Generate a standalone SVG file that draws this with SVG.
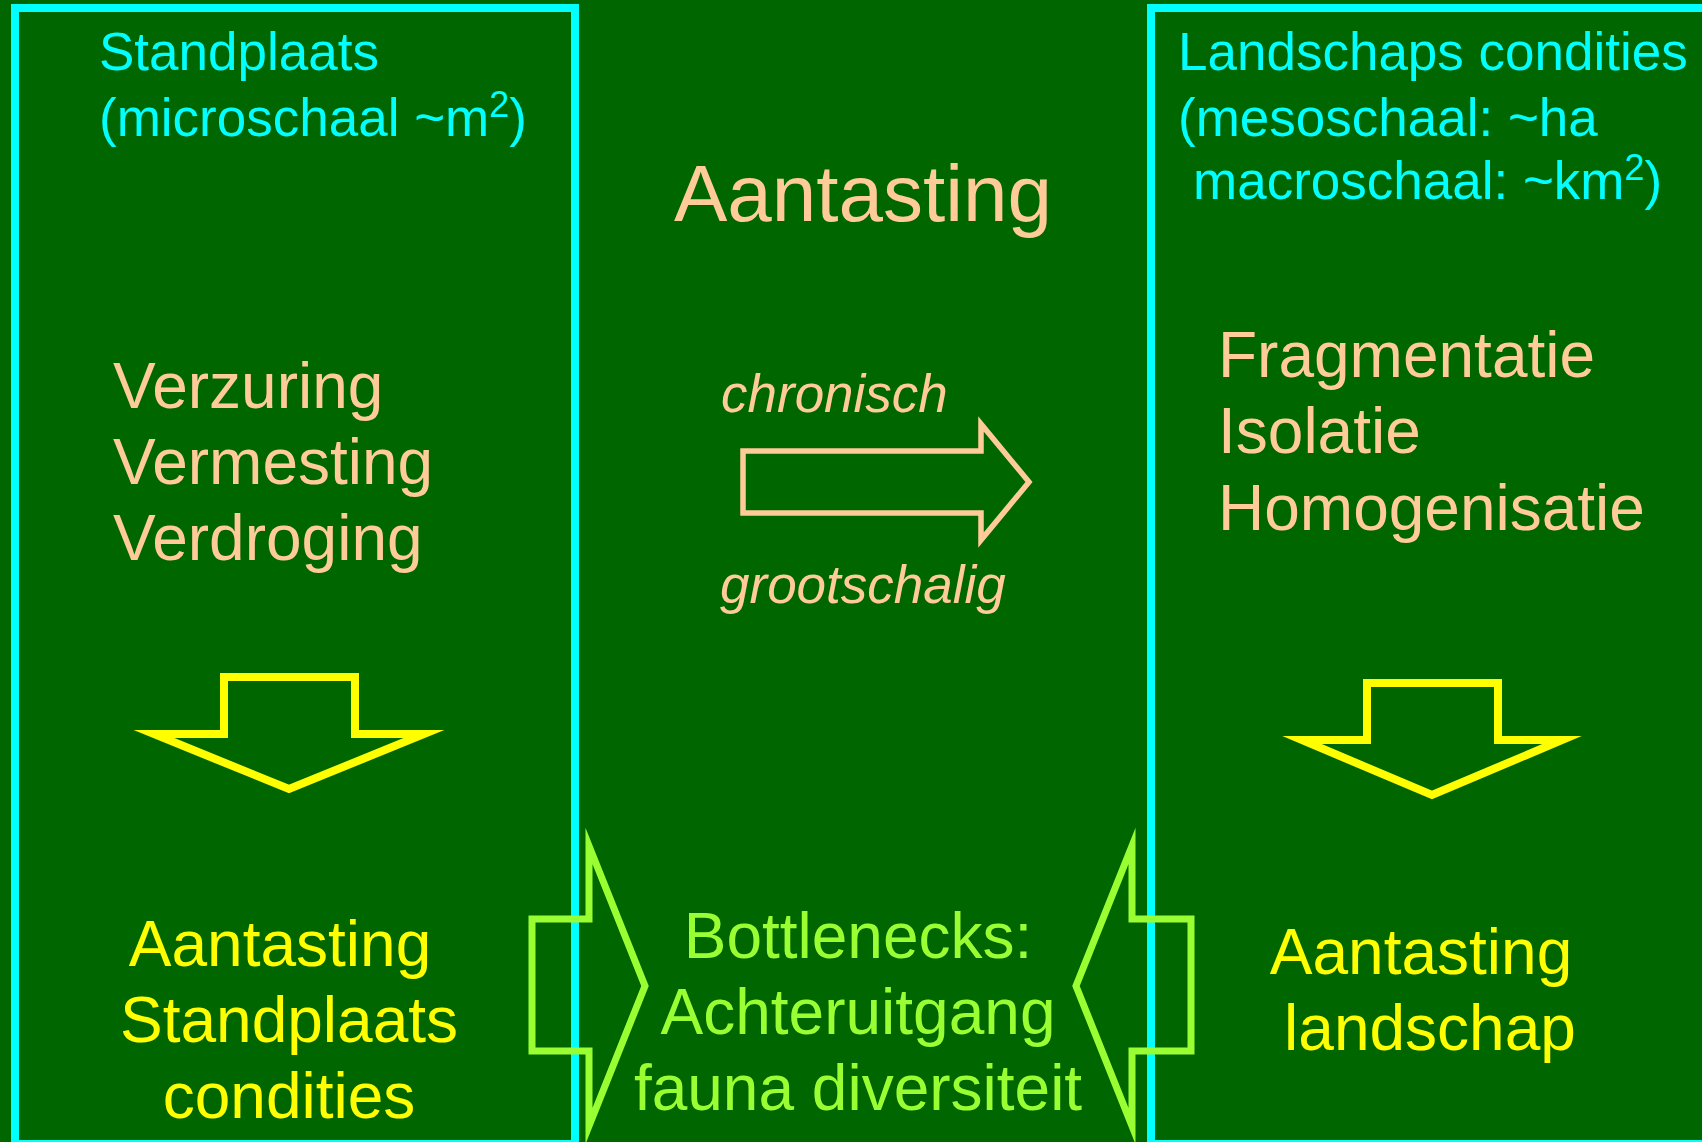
<svg xmlns="http://www.w3.org/2000/svg" width="1702" height="1142" viewBox="0 0 1702 1142">
  <style>
    text { font-family: "Liberation Sans", Arial, sans-serif; }
    .hdr { fill: #00FFFF; font-size: 53px; }
    .peach { fill: #FFCC99; }
    .big { font-size: 64px; }
    .it { font-size: 53px; font-style: italic; }
    .yel { fill: #FFFF00; font-size: 64px; text-anchor: middle; }
    .grn { fill: #99FF33; font-size: 64px; text-anchor: middle; }
    .box { fill: none; stroke: #00FFFF; stroke-width: 8; }
    .ya { fill: none; stroke: #FFFF00; stroke-width: 8; stroke-miterlimit: 10; }
    .pa { fill: none; stroke: #FFCC99; stroke-width: 5.5; stroke-miterlimit: 10; }
    .ga { fill: none; stroke: #99FF33; stroke-width: 7; stroke-miterlimit: 10; }
    .sup { font-size: 36px; }
  </style>
  <rect x="0" y="0" width="1702" height="1142" fill="#006600"/>

  <g id="box-standplaats">
    <rect class="box" x="15" y="8" width="560" height="1136"/>
    <text class="hdr" x="99" y="70">Standplaats</text>
    <text class="hdr" x="99" y="136">(microschaal ~m<tspan class="sup" dy="-19">2</tspan><tspan dy="19">)</tspan></text>
    <text class="peach big" x="113" y="408">Verzuring</text>
    <text class="peach big" x="113" y="484">Vermesting</text>
    <text class="peach big" x="113" y="560">Verdroging</text>
    <text class="yel" x="280" y="966">Aantasting</text>
    <text class="yel" x="289" y="1042">Standplaats</text>
    <text class="yel" x="289" y="1118">condities</text>
  </g>

  <g id="box-landschap">
    <rect class="box" x="1151" y="8" width="600" height="1136"/>
    <text class="hdr" x="1178" y="70">Landschaps condities</text>
    <text class="hdr" x="1178" y="136">(mesoschaal: ~ha</text>
    <text class="hdr" x="1193" y="199">macroschaal: ~km<tspan class="sup" dy="-19">2</tspan><tspan dy="19">)</tspan></text>
    <text class="peach big" x="1218" y="377">Fragmentatie</text>
    <text class="peach big" x="1218" y="453">Isolatie</text>
    <text class="peach big" x="1218" y="530">Homogenisatie</text>
    <text class="yel" x="1421" y="974">Aantasting</text>
    <text class="yel" x="1430" y="1050">landschap</text>
  </g>

  <g id="aantasting-center">
    <text class="peach" x="674" y="221" font-size="80">Aantasting</text>
    <text class="peach it" x="721" y="412">chronisch</text>
    <text class="peach it" x="720" y="603">grootschalig</text>
  </g>

  <g id="bottlenecks">
    <text class="grn" x="858" y="958">Bottlenecks:</text>
    <text class="grn" x="858" y="1034">Achteruitgang</text>
    <text class="grn" x="858" y="1110">fauna diversiteit</text>
  </g>

  <g id="connectors">
    <polygon class="pa" points="743,451 981,451 981,424 1029,482 981,540 981,513 743,513"/>
    <polygon class="ya" points="224,677 355,677 355,734 424,734 289,789 154,734 224,734"/>
    <polygon class="ya" points="1367,683 1498,683 1498,740 1562,740 1432,795 1302,740 1367,740"/>
    <polygon class="ga" points="532,919 589,919 589,846 645,986 589,1126 589,1051 532,1051"/>
    <polygon class="ga" points="1191,919 1132,919 1132,846 1076,986 1132,1126 1132,1051 1191,1051"/>
  </g>
</svg>
